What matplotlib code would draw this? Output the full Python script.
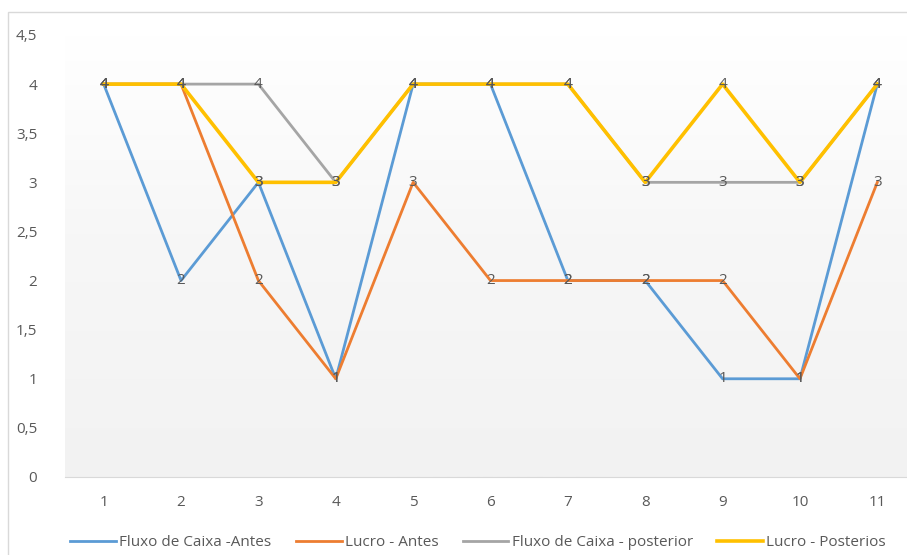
import numpy as np
import matplotlib
matplotlib.use("Agg")
import matplotlib.pyplot as plt
from matplotlib.patches import Rectangle
from matplotlib.ticker import FuncFormatter

x = [1, 2, 3, 4, 5, 6, 7, 8, 9, 10, 11]
fluxo_antes = [4, 2, 3, 1, 4, 4, 2, 2, 1, 1, 4]
lucro_antes = [4, 4, 2, 1, 3, 2, 2, 2, 2, 1, 3]
fluxo_post = [4, 4, 4, 3, 4, 4, 4, 3, 3, 3, 4]
lucro_post = [4, 4, 3, 3, 4, 4, 4, 3, 4, 3, 4]

series = [
    ("Fluxo de Caixa -Antes", fluxo_antes, "#5B9BD5", 2.0),
    ("Lucro - Antes", lucro_antes, "#ED7D31", 2.0),
    ("Fluxo de Caixa - posterior", fluxo_post, "#A5A5A5", 2.0),
    ("Lucro - Posterios", lucro_post, "#FFC000", 2.6),
]

plt.rcParams["font.family"] = ["Open Sans", "DejaVu Sans"]
W, H = 907, 555
fig = plt.figure(figsize=(W / 100, H / 100), dpi=100)

# chart border
fig.patches.append(Rectangle((8 / W, -0.1), 1.2, 1 - 12 / H + 0.1,
                             transform=fig.transFigure, fill=False,
                             edgecolor="#D9D9D9", linewidth=1.0))

left, right, top, bottom = 65, 916, 35, 477
ax = fig.add_axes([left / W, 1 - bottom / H, (right - left) / W, (bottom - top) / H])
ax.set_xlim(0.5, 11.5)
ax.set_ylim(0, 4.5)

# gradient background
grad = np.linspace(1, 0, 256).reshape(-1, 1)
cmap = matplotlib.colors.LinearSegmentedColormap.from_list(
    "bg", [(0, "#F2F2F2"), (0.55, "#F7F7F7"), (1, "#FFFFFF")])
ax.imshow(grad, extent=[0.5, 11.5, 0, 4.5], aspect="auto", cmap=cmap,
          origin="upper", zorder=0)

for name, vals, col, lw in series:
    ax.plot(x, vals, color=col, linewidth=lw, label=name, zorder=2)
for name, vals, col, lw in series:
    for xi, yi in zip(x, vals):
        ax.text(xi, yi, str(yi), ha="center", va="center", fontsize=11,
                color="#595959", zorder=3)

for s in ["top", "right", "left"]:
    ax.spines[s].set_visible(False)
ax.spines["bottom"].set_color("#D9D9D9")
ax.set_xticks(x)
ax.set_yticks(np.arange(0, 4.51, 0.5))
ax.yaxis.set_major_formatter(FuncFormatter(lambda v, p: f"{v:g}".replace(".", ",")))
ax.tick_params(length=0, labelsize=11, colors="#595959", pad=13)
ax.tick_params(axis="y", pad=20)

leg = fig.legend(loc="center", bbox_to_anchor=(478 / W, 1 - 543 / H), ncol=4,
                 frameon=False, fontsize=11, handlelength=3.0, handletextpad=0.2,
                 columnspacing=1.6)
for t in leg.get_texts():
    t.set_color("#595959")

fig.savefig("out.png", dpi=100)
